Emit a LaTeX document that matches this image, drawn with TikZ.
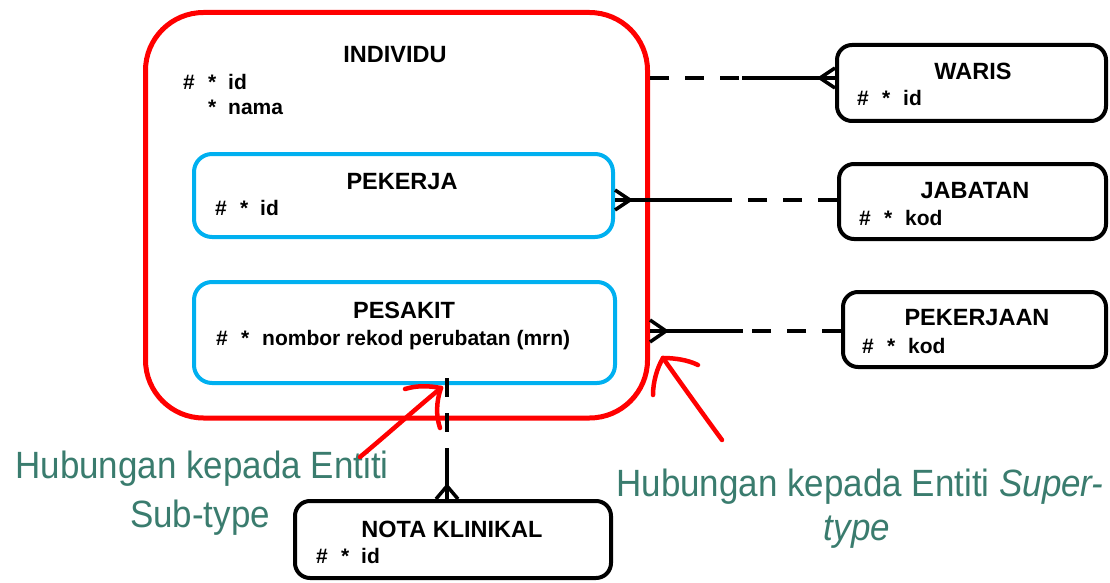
\documentclass[tikz,border=0pt]{standalone}
\usepackage{fontspec}
\setmainfont{Liberation Sans}
\newfontfamily\notefont[FakeStretch=0.92]{Liberation Sans}
\usetikzlibrary{calc}
\definecolor{superred}{HTML}{FF0000}
\definecolor{subblue}{HTML}{00B0F0}
\definecolor{noteteal}{HTML}{3A7C6E}
\tikzset{
  supertype/.style={draw=superred, line width=5pt, rounded corners=58pt, inner sep=0pt},
  subtypebox/.style={draw=subblue, line width=4pt, rounded corners=18pt, inner sep=0pt},
  entitybox/.style={draw=black, line width=4pt, rounded corners=15pt, inner sep=0pt},
  title/.style={anchor=base, inner sep=0pt, font=\fontsize{23.5}{28}\selectfont\bfseries},
  attr/.style={anchor=base west, inner sep=0pt, font=\fontsize{21}{25}\selectfont\bfseries},
  rel/.style={draw=black, line width=4pt},
  optional/.style={rel, dash pattern=on 19pt off 16pt},
  crow/.style={draw=black, line width=3.5pt, line join=miter},
  note/.style={anchor=base, inner sep=0pt, text=noteteal, font=\notefont\fontsize{38}{45}\selectfont},
  hand/.style={draw=superred, line width=4.5pt, line cap=round, line join=round}
}
\begin{document}
\begin{tikzpicture}[x=1pt, y=-1pt]
\useasboundingbox (0,0) rectangle (1110,583);

% supertype and its subtypes
\node[supertype, minimum width=502pt, minimum height=405.5pt] (individu) at (396.5,215.25) {};
\node[subtypebox, minimum width=419pt, minimum height=83pt] (pekerja) at (403.5,195.5) {};
\node[subtypebox, minimum width=421pt, minimum height=101pt] (pesakit) at (404.5,332.5) {};

% related entities
\node[entitybox, minimum width=269pt, minimum height=76pt] (waris) at (971.5,83) {};
\node[entitybox, minimum width=267pt, minimum height=75pt] (jabatan) at (972.5,201.5) {};
\node[entitybox, minimum width=263pt, minimum height=75pt] (pekerjaan) at (974.5,329.5) {};
\node[entitybox, minimum width=316pt, minimum height=77pt] (nota) at (453,539.5) {};

% entity titles
\node[title] (tIndividu) at (395,63) {INDIVIDU};
\node[title] (tPekerja) at (402,189) {PEKERJA};
\node[title] (tPesakit) at (404,318) {PESAKIT};
\node[title] (tWaris) at (973,80) {WARIS};
\node[title] (tJabatan) at (975,198) {JABATAN};
\node[title] (tPekerjaan) at (977,325) {PEKERJAAN};
\node[title] (tNota) at (452,537) {NOTA KLINIKAL};

% attributes
\node[attr] (aIndHash) at (183,90) {\#};
\node[attr] (aIndStar1) at (208,90) {*};
\node[attr] (aIndId) at (228,90) {id};
\node[attr] (aIndStar2) at (208,115) {*};
\node[attr] (aIndNama) at (228,115) {nama};

\node[attr] (aPkjHash) at (215,215) {\#};
\node[attr] (aPkjStar) at (240,215) {*};
\node[attr] (aPkjId) at (260,215) {id};

\node[attr] (aPskHash) at (216,345) {\#};
\node[attr] (aPskStar) at (241,345) {*};
\node[attr] (aPskMrn) at (262,345) {nombor rekod perubatan (mrn)};

\node[attr] (aWarHash) at (857,106) {\#};
\node[attr] (aWarStar) at (882,106) {*};
\node[attr] (aWarId) at (903,106) {id};

\node[attr] (aJabHash) at (859,225) {\#};
\node[attr] (aJabStar) at (884,225) {*};
\node[attr] (aJabKod) at (905,225) {kod};

\node[attr] (aPkrHash) at (862,353) {\#};
\node[attr] (aPkrStar) at (887,353) {*};
\node[attr] (aPkrKod) at (908,353) {kod};

\node[attr] (aNotHash) at (316,563) {\#};
\node[attr] (aNotStar) at (341,563) {*};
\node[attr] (aNotId) at (361,563) {id};

% INDIVIDU -- WARIS
\coordinate (wm) at (742,78);
\draw[optional] (wm -| individu.east) -- (wm);
\draw[rel] (wm) -- (wm -| waris.west);
\draw[crow] ($(wm -| waris.west)+(0,-10)$) -- ($(wm -| waris.west)+(-15,0)$) -- ($(wm -| waris.west)+(0,10)$);

% PEKERJA -- JABATAN
\coordinate (jm) at (730,200);
\draw[rel] (jm -| pekerja.east) -- (jm);
\draw[optional] (jm -| jabatan.west) -- (jm);
\draw[crow] ($(jm -| pekerja.east)+(0,-10)$) -- ($(jm -| pekerja.east)+(15,0)$) -- ($(jm -| pekerja.east)+(0,10)$);

% INDIVIDU -- PEKERJAAN
\coordinate (pm) at (743,331);
\draw[rel] (pm -| individu.east) -- (pm);
\draw[optional] (pm -| pekerjaan.west) -- (pm);
\draw[crow] ($(pm -| individu.east)+(0,-11)$) -- ($(pm -| individu.east)+(16,0)$) -- ($(pm -| individu.east)+(0,11)$);

% PESAKIT -- NOTA KLINIKAL
\coordinate (ns) at (447,378);
\coordinate (nm) at (447,455);
\draw[optional] (ns) -- (nm);
\draw[rel] (nm) -- (nm |- nota.north);
\draw[crow] ($(nm |- nota.north)+(-11,0)$) -- ($(nm |- nota.north)+(0,-13)$) -- ($(nm |- nota.north)+(11,0)$);

% explanatory notes
\node[note] (noteSub1) at (202,478) {Hubungan kepada Entiti};
\node[note] (noteSub2) at (200,527) {Sub-type};
\node[note] (noteSup1) at (860,496) {Hubungan kepada Entiti \textit{Super-}};
\node[note] (noteSup2) at (857,540) {\textit{type}};

% hand-drawn pointers
\coordinate (subTail) at (360,457);
\coordinate (subTip) at (441,388);
\draw[hand] (subTail) .. controls (390,432) and (420,405) .. (subTip);
\draw[hand] (405,389) .. controls (418,385) and (430,386) .. (subTip);
\draw[hand] (subTip) .. controls (436,402) and (436,416) .. (440,428);

\coordinate (supTail) at (722,440);
\coordinate (supTip) at (663,358);
\draw[hand] (supTail) .. controls (700,410) and (680,382) .. (supTip);
\draw[hand] (supTip) .. controls (675,358) and (688,360) .. (698,365);
\draw[hand] (supTip) .. controls (657,368) and (653,382) .. (653,395);
\end{tikzpicture}
\end{document}
